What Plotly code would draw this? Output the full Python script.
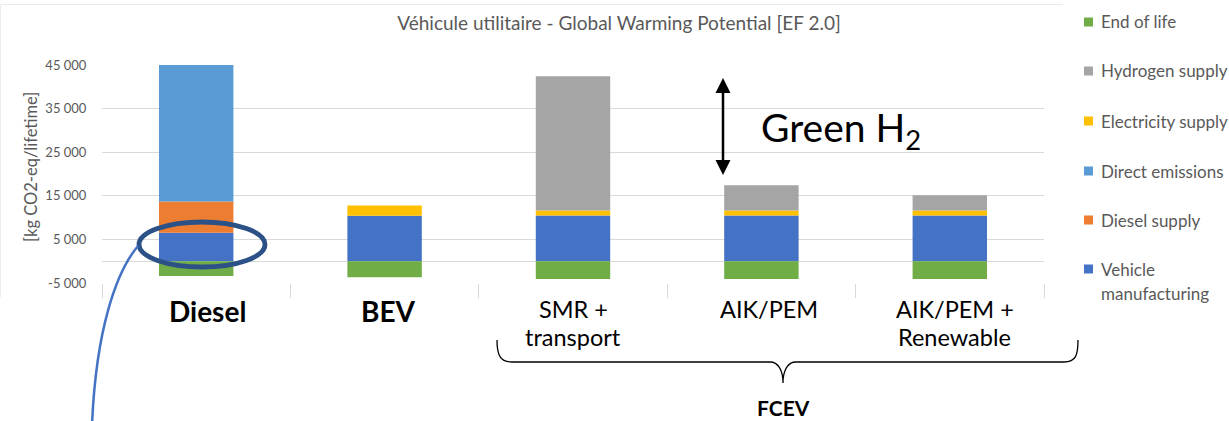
import plotly.graph_objects as go

# Life-cycle GWP of a light commercial vehicle, kg CO2-eq over its lifetime
categories = ["Diesel", "BEV", "SMR + transport", "AIK/PEM", "AIK/PEM + Renewable"]
vehicle_manufacturing = [6500, 10400, 10500, 10500, 10500]
diesel_supply = [7200, 0, 0, 0, 0]
direct_emissions = [31700, 0, 0, 0, 0]
electricity_supply = [0, 2400, 1100, 1100, 1100]
hydrogen_supply = [0, 0, 30800, 5800, 3500]
end_of_life = [-3400, -3700, -4100, -4100, -4100]

series_names = ["Vehicle manufacturing", "Diesel supply", "Direct emissions",
                "Electricity supply", "Hydrogen supply", "End of life"]
series_values = [vehicle_manufacturing, diesel_supply, direct_emissions,
                 electricity_supply, hydrogen_supply, end_of_life]
series_colors = ["#4472C4", "#ED7D31", "#5B9BD5", "#FFC000", "#A5A5A5", "#70AD47"]

y_tick_vals = [-5000, 5000, 15000, 25000, 35000, 45000]
y_tick_text = ["-5 000", "5 000", "15 000", "25 000", "35 000", "45 000"]

label_line1 = ["<b>Diesel</b>", "<b>BEV</b>", "SMR +", "AIK/PEM", "AIK/PEM +"]
label_line2 = ["", "", "transport", "", "Renewable"]

W, H = 1229, 421
L, R, T, B = 102, 185, 65, 138
PW, PH = W - L - R, H - T - B


def px(x):
    return (x - L) / PW


def py(y):
    return (T + PH - y) / PH


def path(points):
    cmd = []
    for p in points:
        if isinstance(p, str):
            cmd.append(p)
        else:
            cmd.append(f"{px(p[0]):.5f},{py(p[1]):.5f}")
    return " ".join(cmd)


fig = go.Figure()
for name, vals, col in zip(series_names, series_values, series_colors):
    fig.add_trace(go.Bar(x=categories, y=vals, name=name, marker_color=col,
                         marker_line_width=0, showlegend=False))

grey = "#595959"
grid = "#D9D9D9"

fig.update_layout(
    width=W, height=H,
    margin=dict(l=L, r=R, t=T, b=B),
    barmode="relative",
    bargap=0.605,
    plot_bgcolor="white",
    paper_bgcolor="white",
    font=dict(family="Lato", color=grey),
    title=dict(text="Véhicule utilitaire - Global Warming Potential [EF 2.0]",
               x=619 / W, y=1 - 23 / H, xref="container", yref="container",
               xanchor="center", yanchor="middle",
               font=dict(family="Lato", size=19, color=grey)),
)

fig.update_yaxes(range=[-5000, 45000], tickvals=y_tick_vals, ticktext=y_tick_text,
                 showgrid=True, gridcolor=grid, gridwidth=1,
                 zeroline=True, zerolinecolor=grid, zerolinewidth=1,
                 ticks="outside", ticklen=12, tickcolor="rgba(0,0,0,0)",
                 tickfont=dict(family="Lato", size=13, color=grey),
                 showline=False)
fig.update_xaxes(type="category", range=[-0.5, 4.5], showgrid=False,
                 showticklabels=False, tickson="boundaries",
                 ticks="outside", ticklen=14, tickcolor=grid, tickwidth=1,
                 showline=False, zeroline=False)

ann = []
# y-axis title
ann.append(dict(text="[kg CO2-eq/lifetime]", xref="paper", yref="paper",
                x=px(31), y=py(167), xanchor="center", yanchor="middle",
                textangle=-90, showarrow=False,
                font=dict(family="Lato", size=16.5, color=grey)))

# category labels
shifts = [11, 4, 0, 8, 5]
for cat, l1, l2, sh in zip(categories, label_line1, label_line2, shifts):
    bold = l1.startswith("<b>")
    ann.append(dict(text=l1, xref="x", yref="paper", x=cat,
                    y=py(311 if bold else 309),
                    xshift=sh, xanchor="center", yanchor="middle", showarrow=False,
                    font=dict(family="Lato", size=28 if bold else 23.5, color="black")))
    if l2:
        ann.append(dict(text=l2, xref="x", yref="paper", x=cat, y=py(337),
                        xshift=sh, xanchor="center", yanchor="middle", showarrow=False,
                        font=dict(family="Lato", size=23.5, color="black")))

ann.append(dict(text="<b>FCEV</b>", xref="paper", yref="paper", x=px(783), y=py(407),
                xanchor="center", yanchor="middle", showarrow=False,
                font=dict(family="Lato", size=21, color="black")))

ann.append(dict(text="Green H<sub>2</sub>", xref="paper", yref="paper",
                x=px(759), y=py(130), xanchor="left", yanchor="middle",
                showarrow=False, font=dict(family="Lato", size=39, color="black")))

shapes = []

# double-headed arrow spanning the green hydrogen saving
shapes.append(dict(type="line", xref="paper", yref="paper",
                   x0=px(723), x1=px(723), y0=py(90), y1=py(163),
                   line=dict(color="black", width=2.5), layer="above"))
shapes.append(dict(type="path", xref="paper", yref="paper",
                   path=path(["M", (723, 78), "L", (715.5, 93), "L", (730.5, 93), "Z"]),
                   fillcolor="black", line_width=0, layer="above"))
shapes.append(dict(type="path", xref="paper", yref="paper",
                   path=path(["M", (723, 175), "L", (715.5, 160), "L", (730.5, 160), "Z"]),
                   fillcolor="black", line_width=0, layer="above"))

# legend, drawn as swatches and labels
legend_rows = [22, 71, 121, 171, 220, 269]
for name, col, yc in zip(series_names[::-1], series_colors[::-1], legend_rows):
    shapes.append(dict(type="rect", xref="paper", yref="paper",
                       x0=px(1084), x1=px(1093), y0=py(yc - 4.5), y1=py(yc + 4.5),
                       fillcolor=col, line_width=0, layer="above"))
    parts = name.split(" ", 1) if name == "Vehicle manufacturing" else [name]
    for k, part in enumerate(parts):
        ann.append(dict(text=part, xref="paper", yref="paper",
                        x=px(1099), y=py(yc + 24 * k), xanchor="left", yanchor="middle",
                        showarrow=False, font=dict(family="Lato", size=17, color=grey)))

# faint chart frame
shapes.append(dict(type="path", xref="paper", yref="paper",
                   path=path(["M", (0.5, 297), "L", (0.5, 4.5), "L", (1063, 4.5)]),
                   line=dict(color="#EBEBEB", width=1)))

# highlight ellipse on the diesel bar and its pointer line
shapes.append(dict(type="circle", xref="paper", yref="paper",
                   x0=px(139), x1=px(265), y0=py(267), y1=py(222),
                   line=dict(color="#2B5187", width=4.8), layer="above"))
shapes.append(dict(type="path", xref="paper", yref="paper",
                   path=path(["M", (138, 246), "C", (116, 272), (96, 330), (92, 425)]),
                   line=dict(color="#4472C4", width=2.5), layer="above"))

# brace grouping the fuel cell variants
shapes.append(dict(type="path", xref="paper", yref="paper",
                   path=path(["M", (497, 340), "C", (497, 355), (500, 362), (512, 362),
                              "L", (770, 362), "C", (778, 362), (783, 370), (783, 383),
                              "C", (783, 370), (788, 362), (796, 362),
                              "L", (1064, 362), "C", (1076, 362), (1078, 355), (1078, 340)]),
                   line=dict(color="black", width=1.3), layer="above"))

fig.update_layout(annotations=ann, shapes=shapes)
fig.write_html("out.html")
